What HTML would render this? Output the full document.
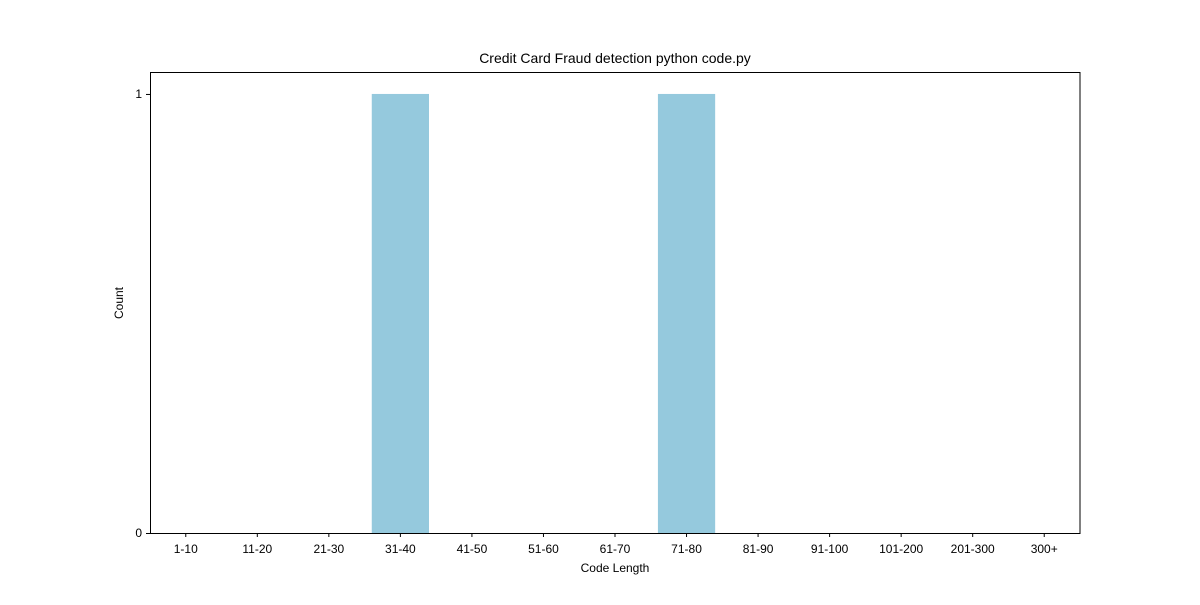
<!DOCTYPE html>
<html><head><meta charset="utf-8"><style>
body{margin:0;background:#fff;}
svg text{font-family:"Liberation Sans","DejaVu Sans",sans-serif;fill:#000;}
</style></head><body>
<svg id="chart" width="1200" height="600" xmlns="http://www.w3.org/2000/svg">
<rect width="1200" height="600" fill="#fff"/>
<text x="615" y="63" font-size="14" text-anchor="middle">Credit Card Fraud detection python code.py</text>
<g id="bars"></g>
<g id="xticks"></g>
<g id="yticks"></g>
<rect x="150.5" y="72.5" width="929.5" height="461" fill="none" stroke="#000" stroke-width="1"/>
<text x="615" y="572" font-size="12" text-anchor="middle">Code Length</text>
<text x="0" y="0" font-size="12" text-anchor="middle" transform="translate(123,303) rotate(-90)">Count</text>
</svg>
<script>
const categories=["1-10","11-20","21-30","31-40","41-50","51-60","61-70","71-80","81-90","91-100","101-200","201-300","300+"];
const counts=[0,0,0,1,0,0,0,1,0,0,0,0,0];
const yTickValues=[0,1];
const L=150,R=1080,T=72,B=533,yMax=1.05;
const n=categories.length;
const step=(R-L)/n;
function xc(i){return L+(i+0.5)*step;}
function y(v){return B-(v/yMax)*(B-T);}
const NS="http://www.w3.org/2000/svg";
const bars=document.getElementById('bars'),xt=document.getElementById('xticks'),yt=document.getElementById('yticks');
categories.forEach((c,i)=>{
  const w=step*0.8;
  if(counts[i]>0){
    const r=document.createElementNS(NS,'rect');
    r.setAttribute('x',xc(i)-w/2);r.setAttribute('y',y(counts[i]));
    r.setAttribute('width',w);r.setAttribute('height',B-y(counts[i]));
    r.setAttribute('fill','#95c9dd');
    
    
    bars.appendChild(r);
  }
  const l=document.createElementNS(NS,'line');
  l.setAttribute('x1',xc(i));l.setAttribute('x2',xc(i));l.setAttribute('y1',B);l.setAttribute('y2',B+4);
  l.setAttribute('stroke','#000');
  
  
  xt.appendChild(l);
  const t=document.createElementNS(NS,'text');
  t.setAttribute('x',xc(i));t.setAttribute('y',B+20);t.setAttribute('font-size','12');t.setAttribute('text-anchor','middle');
  t.textContent=c;
  
  
  xt.appendChild(t);
});
yTickValues.forEach(v=>{
  const l=document.createElementNS(NS,'line');
  l.setAttribute('x1',L-4);l.setAttribute('x2',L);l.setAttribute('y1',y(v)+0.5);l.setAttribute('y2',y(v)+0.5);
  l.setAttribute('stroke','#000');
  
  
  yt.appendChild(l);
  const t=document.createElementNS(NS,'text');
  t.setAttribute('x',L-8);t.setAttribute('y',y(v)+4);t.setAttribute('font-size','12');t.setAttribute('text-anchor','end');
  t.textContent=v;
  
  
  yt.appendChild(t);
});
</script>
</body></html>
